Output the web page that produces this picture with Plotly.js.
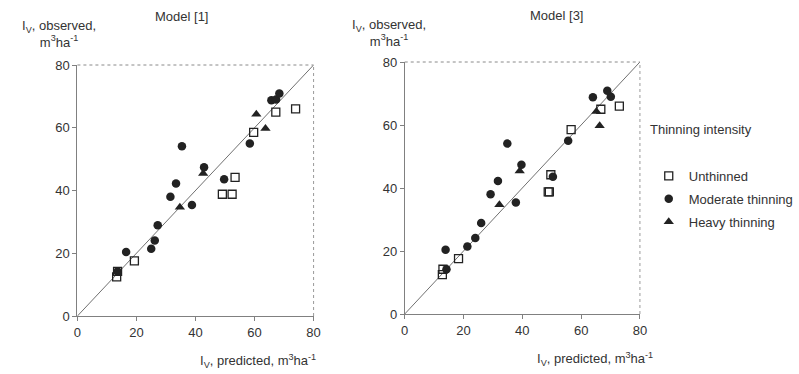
<!DOCTYPE html>
<html>
<head>
<meta charset="utf-8">
<script src="https://cdn.plot.ly/plotly-3.0.1.min.js"></script>
<style>html,body{margin:0;padding:0;background:#fff;}#chart{width:799px;height:374px;}</style>
</head>
<body>
<div id="chart"></div>
<script>
// ---- data ----
const axisTicks = [0, 20, 40, 60, 80];
const axisRange = [0, 80];
const panelTitles = ["Model [1]", "Model [3]"];
const seriesNames = ["Unthinned", "Moderate thinning", "Heavy thinning"];

const unthObs   = [12.5, 14.2, 17.6, 38.8, 38.8, 44.2, 58.5, 65.0, 66.0];
const unthPred1 = [13.3, 13.6, 19.3, 49.1, 52.4, 53.4, 59.7, 67.2, 73.9];
const unthPred3 = [12.8, 13.0, 18.3, 48.8, 49.2, 49.7, 56.6, 66.7, 73.0];

const modObs   = [14.2, 20.4, 21.4, 24.1, 28.9, 35.4, 38.0, 42.2, 43.6, 47.4, 54.1, 55.0, 68.8, 69.0, 70.9];
const modPred1 = [13.6, 16.5, 25.0, 26.2, 27.2, 38.8, 31.5, 33.4, 49.7, 42.9, 35.4, 58.4, 65.7, 67.3, 68.4];
const modPred3 = [14.2, 13.9, 21.3, 24.0, 26.0, 37.8, 29.2, 31.7, 50.4, 39.7, 34.9, 55.6, 64.0, 70.1, 68.9];

const heavyObs   = [34.7, 45.4, 59.8, 64.3];
const heavyPred1 = [34.7, 42.6, 63.7, 60.6];
const heavyPred3 = [32.2, 39.1, 66.3, 65.2];

// ---- styling ----
const FONT = "Liberation Sans, Arial, sans-serif";
const TXT = "#333";
const INK = "#222";
const AX = "#808080";

function markerStyles(i) {
  if (i === 0) return {symbol: "square-open", size: 8, color: INK, line: {width: 1.3, color: INK}};
  if (i === 1) return {symbol: "circle", size: 8.5, color: INK, line: {width: 0}};
  return {symbol: "triangle-up", size: 9, color: INK, line: {width: 0}};
}

const traces = [];
const panels = [
  {xa: "x", ya: "y", preds: [unthPred1, modPred1, heavyPred1], legend: false},
  {xa: "x2", ya: "y2", preds: [unthPred3, modPred3, heavyPred3], legend: true}
];
const obs = [unthObs, modObs, heavyObs];

panels.forEach(p => {
  // 1:1 reference line across the axis range
  traces.push({
    x: axisRange, y: axisRange, xaxis: p.xa, yaxis: p.ya, mode: "lines",
    line: {color: "#707070", width: 1}, showlegend: false, hoverinfo: "skip"
  });
  for (let i = 0; i < 3; i++) {
    traces.push({
      x: p.preds[i], y: obs[i], xaxis: p.xa, yaxis: p.ya,
      mode: "markers", name: seriesNames[i],
      marker: markerStyles(i), showlegend: p.legend,
      legendgroup: "g" + i
    });
  }
});

function axisCommon(domain, anchor) {
  return {
    domain: domain, anchor: anchor, range: axisRange, tickvals: axisTicks,
    ticks: "outside", ticklen: 4, tickwidth: 1, tickcolor: AX,
    showline: true, linecolor: AX, linewidth: 1, mirror: false,
    showgrid: false, zeroline: false, fixedrange: true,
    tickfont: {family: FONT, size: 13, color: TXT}
  };
}

const W = 799, H = 374;
const px = v => v / W, py = v => 1 - v / H;

const frameShapes = [];
[["x domain", "y domain"], ["x2 domain", "y2 domain"]].forEach(([xr, yr]) => {
  frameShapes.push({type: "line", xref: xr, yref: yr, x0: 0, x1: 1, y0: 1, y1: 1,
    line: {color: "#8a8a8a", width: 1, dash: "dot"}});
  frameShapes.push({type: "line", xref: xr, yref: yr, x0: 1, x1: 1, y0: 0, y1: 1,
    line: {color: "#9a9a9a", width: 1, dash: "dot"}});
});

const ann = (text, x, y, size, xanchor) => ({
  text: text, xref: "paper", yref: "paper", x: px(x), y: py(y),
  xanchor: xanchor || "center", yanchor: "middle", showarrow: false,
  font: {family: FONT, size: size || 13, color: TXT}, align: "center"
});

const annotations = [
  ann(panelTitles[0], 185, 17),
  ann(panelTitles[1], 568, 15),
  ann("I<sub>V</sub>, observed,<br>m<sup>3</sup>ha<sup>-1</sup>", 60, 34),
  ann("I<sub>V</sub>, observed,<br>m<sup>3</sup>ha<sup>-1</sup>", 397, 33),
  ann("I<sub>V</sub>, predicted, m<sup>3</sup>ha<sup>-1</sup>", 263, 361),
  ann("I<sub>V</sub>, predicted, m<sup>3</sup>ha<sup>-1</sup>", 607, 359),
  ann("Thinning intensity", 715, 129)
];

const layout = {
  width: W, height: H,
  margin: {l: 0, r: 0, t: 0, b: 0},
  paper_bgcolor: "#fff", plot_bgcolor: "#fff",
  font: {family: FONT, color: TXT},
  xaxis: axisCommon([px(79), px(320)], "y"),
  yaxis: axisCommon([py(316), py(65)], "x"),
  xaxis2: axisCommon([px(413), px(653)], "y2"),
  yaxis2: axisCommon([py(314), py(62)], "x2"),
  shapes: frameShapes,
  annotations: annotations,
  showlegend: true,
  legend: {
    x: px(662), y: py(161), xanchor: "left", yanchor: "top",
    font: {family: FONT, size: 13, color: TXT},
    bgcolor: "rgba(0,0,0,0)", borderwidth: 0,
    itemwidth: 30, tracegroupgap: 3
  }
};

Plotly.newPlot("chart", traces, layout, {staticPlot: true, displayModeBar: false});
</script>
</body>
</html>
